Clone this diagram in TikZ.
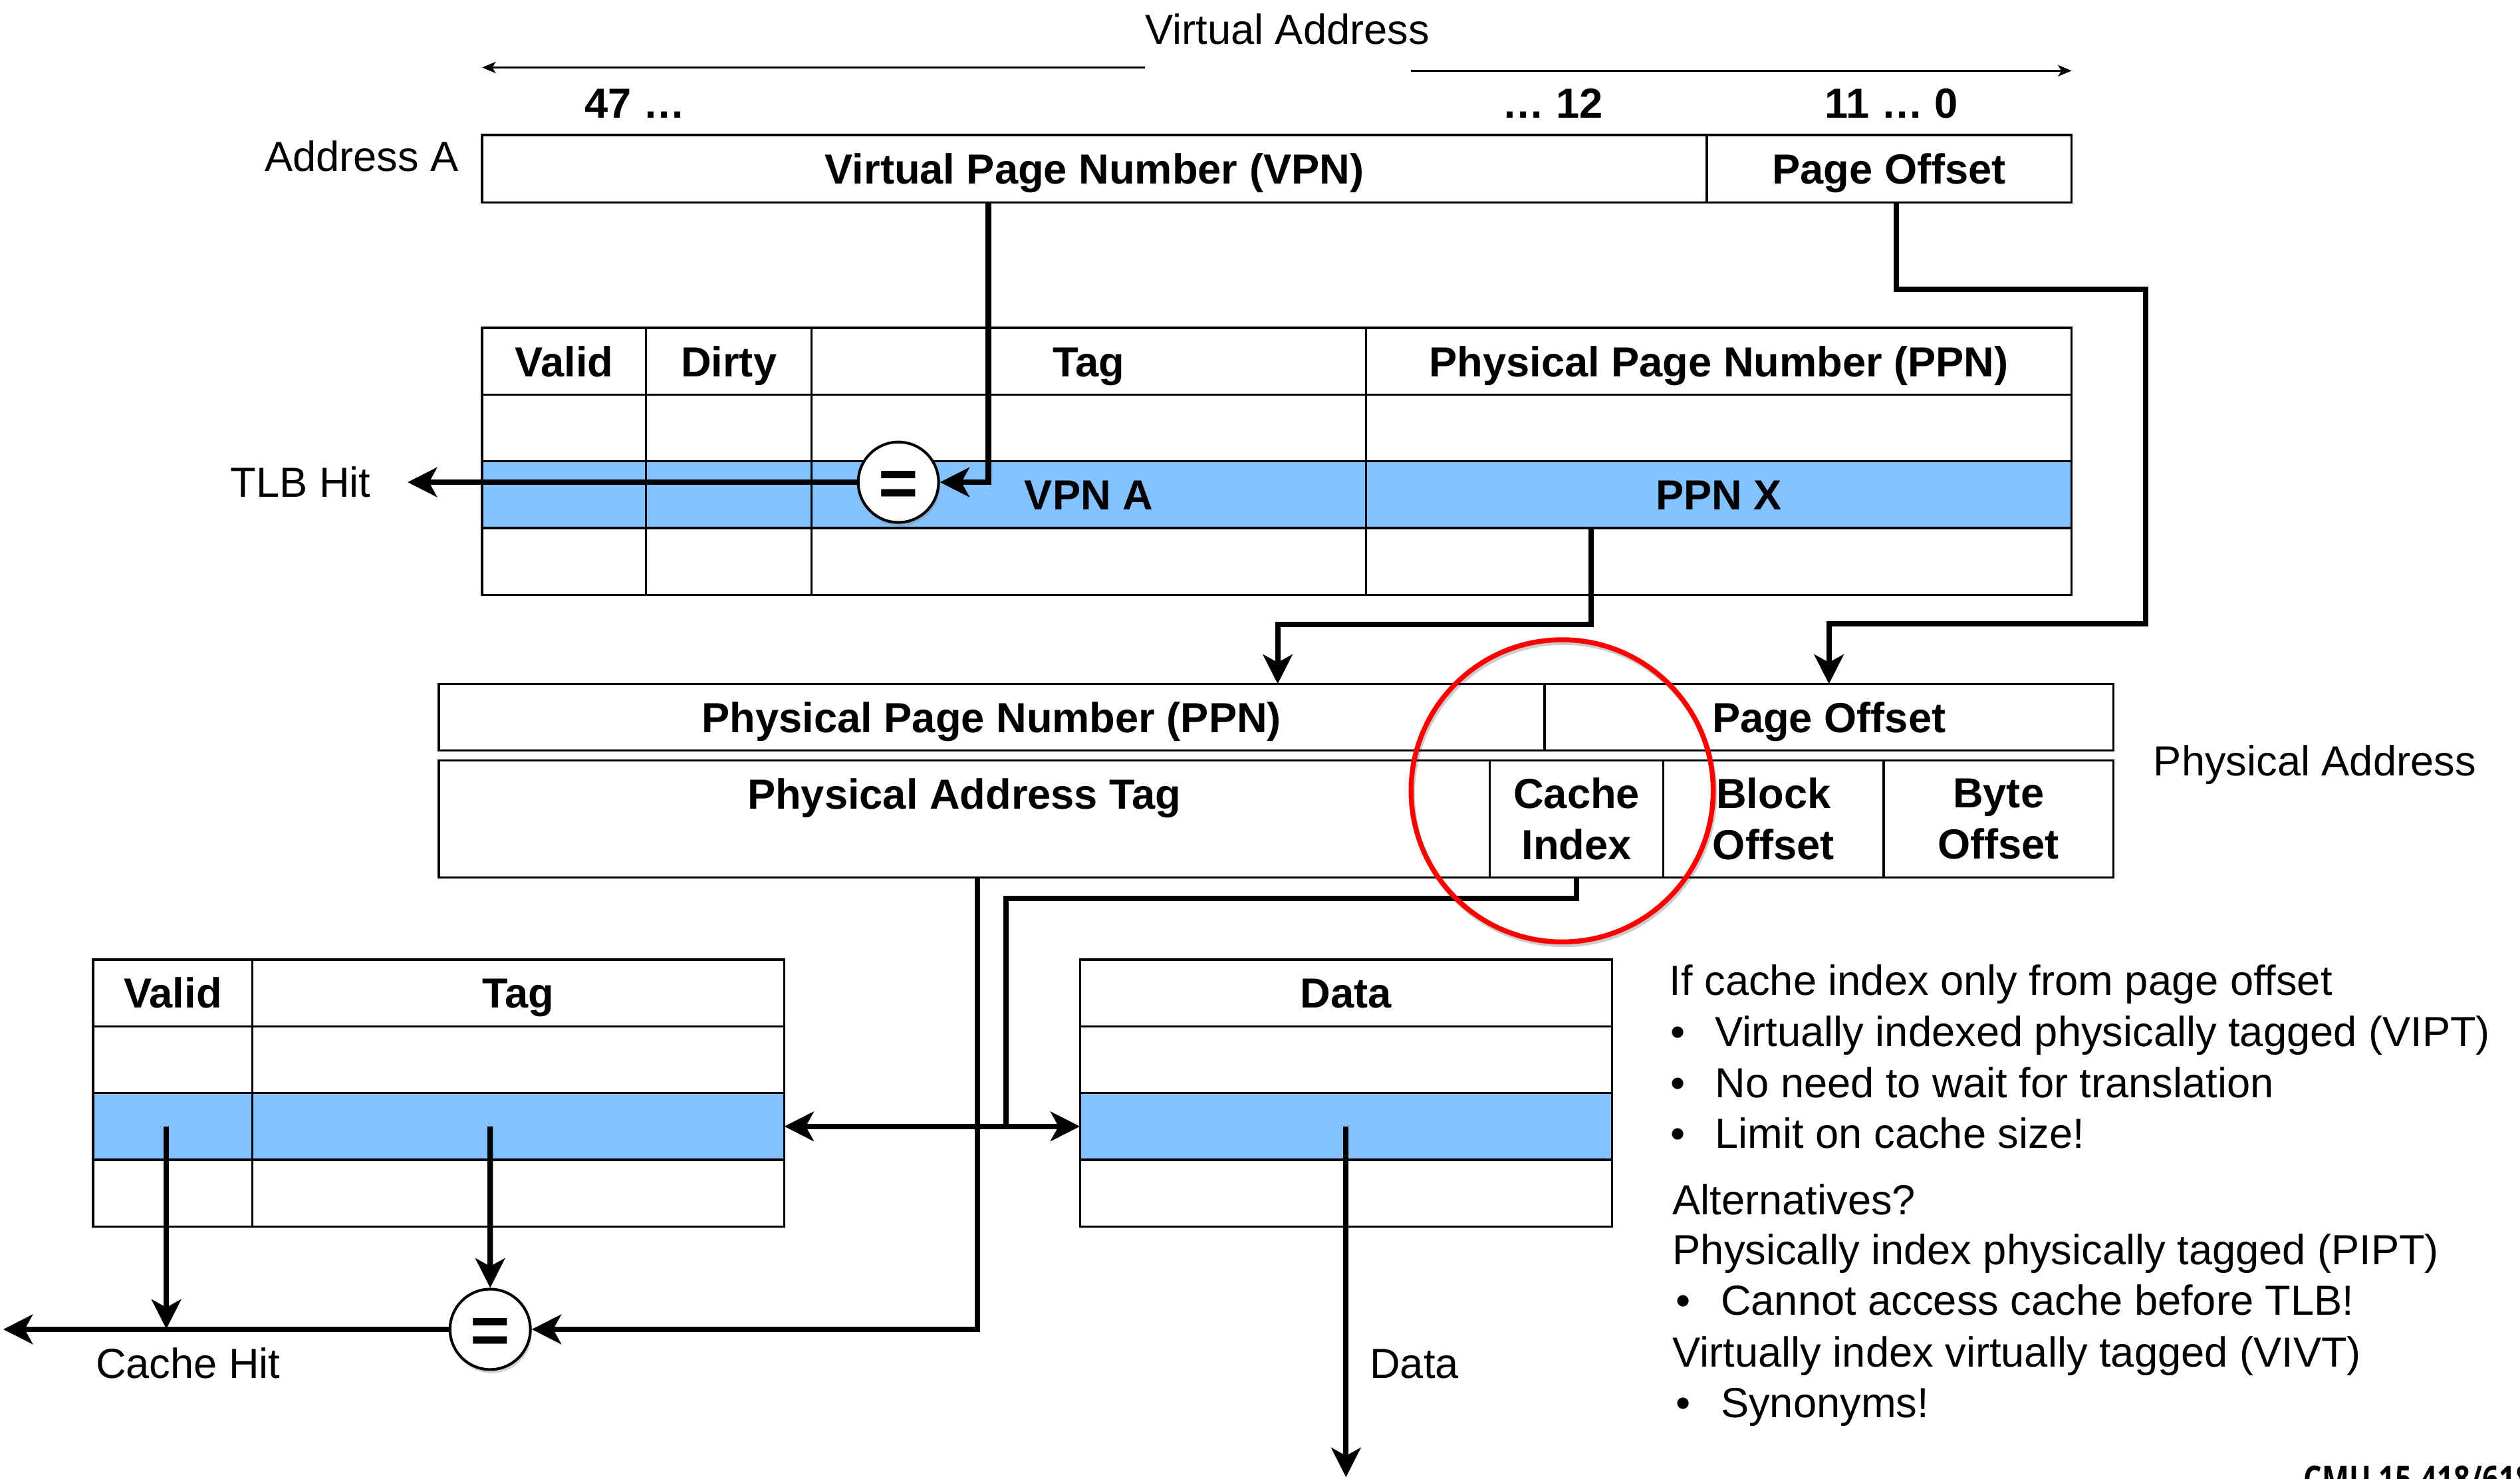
\documentclass[tikz,border=0pt]{standalone}
\usepackage{fontspec}
\setmainfont{Liberation Sans}
\newfontfamily\footfont[FakeStretch=0.8]{Open Sans}
\usetikzlibrary{arrows.meta,shadows}

\definecolor{rowblue}{RGB}{132,193,255}
\newlength\upx
\setlength\upx{0.025cm}
\newcommand\bul{\makebox[28\upx][l]{\textbullet}}

\tikzset{
	cell/.style={draw,rectangle,line width=1pt,outer sep=0pt,inner sep=0pt,text height=13.4pt,text depth=0pt,font=\bfseries},
	hitrow/.style={fill=rowblue},
	twoline/.style={align=center,text height=,text depth=},
	lbl/.style={text height=13.4pt,text depth=0pt},
	note/.style={anchor=base west,inner sep=0pt},
	wire/.style={line width=2.4pt,->},
	bitline/.style={line width=1pt,-{Stealth[length=6pt,width=5pt,inset=1.5pt]}},
	cmp/.style={circle,draw,line width=1.2pt,fill=white,minimum size=50\upx,inner sep=0pt,text height=21.6pt,text depth=0pt,font=\fontsize{30}{30}\selectfont\bfseries,drop shadow={opacity=0.35,shadow xshift=0.6pt,shadow yshift=-1.6pt}},
	ring/.style={circle,draw=red,line width=2.2pt,minimum size=188\upx,inner sep=0pt,preaction={draw=black,draw opacity=0.2,line width=2.2pt,transform canvas={xshift=0.6pt,yshift=-1.2pt}}}
}

\begin{document}
\fontsize{18.6}{22.8}\selectfont
\begin{tikzpicture}[x=\upx,y=-\upx,>={Stealth[length=13pt,width=13pt,inset=3.5pt]}]
	\useasboundingbox (0,0) rectangle (1568,920);

	\begin{scope}[every node/.style={cell,minimum height=42\upx}]
		\node[minimum width=762\upx,anchor=north west] (vpn) at (300,84) {Virtual Page Number (VPN)};
		\node[minimum width=227\upx] (poff) at (vpn.east) [right] {Page Offset};
	\end{scope}

	\begin{scope}[every node/.style={cell,minimum height=41.5\upx}]
		\node[minimum width=102\upx,anchor=north west] (tv0) at (300,204) {Valid};
		\node[minimum width=103\upx] (td0) at (tv0.east) [right] {Dirty};
		\node[minimum width=345\upx] (tt0) at (td0.east) [right] {Tag};
		\node[minimum width=439\upx] (tp0) at (tt0.east) [right] {Physical Page Number (PPN)};
		\node[minimum width=102\upx] (tv1) at (tv0.south) [below] {};
		\node[minimum width=103\upx] (td1) at (tv1.east) [right] {};
		\node[minimum width=345\upx] (tt1) at (td1.east) [right] {};
		\node[minimum width=439\upx] (tp1) at (tt1.east) [right] {};
		\node[minimum width=102\upx,hitrow] (tv2) at (tv1.south) [below] {};
		\node[minimum width=103\upx,hitrow] (td2) at (tv2.east) [right] {};
		\node[minimum width=345\upx,hitrow] (vpna) at (td2.east) [right] {VPN A};
		\node[minimum width=439\upx,hitrow] (ppnx) at (vpna.east) [right] {PPN X};
		\node[minimum width=102\upx] (tv3) at (tv2.south) [below] {};
		\node[minimum width=103\upx] (td3) at (tv3.east) [right] {};
		\node[minimum width=345\upx] (tt3) at (td3.east) [right] {};
		\node[minimum width=439\upx] (tp3) at (tt3.east) [right] {};
	\end{scope}

	\begin{scope}[every node/.style={cell}]
		\node[minimum width=688\upx,minimum height=41.5\upx,anchor=north west] (pappn) at (273,425.5) {Physical Page Number (PPN)};
		\node[minimum width=354\upx,minimum height=41.5\upx] (papoff) at (pappn.east) [right] {Page Offset};
		\node[minimum width=654\upx,minimum height=73\upx,anchor=north west] (patag) at (273,473) {};
		\node[minimum width=108\upx,minimum height=73\upx,twoline] (cidx) at (patag.east) [right] {Cache\\Index};
		\node[minimum width=137\upx,minimum height=73\upx,twoline] (blkoff) at (cidx.east) [right] {Block\\Offset};
		\node[minimum width=143\upx,minimum height=73\upx,twoline] (byteoff) at (blkoff.east) [right] {Byte\\Offset};
	\end{scope}
	\node[lbl,font=\bfseries] (patagtxt) at ([yshift=-21\upx]patag.north) {Physical Address Tag};

	\begin{scope}[every node/.style={cell,minimum height=41.5\upx}]
		\node[minimum width=99\upx,anchor=north west] (cv0) at (58,597) {Valid};
		\node[minimum width=331\upx] (ct0) at (cv0.east) [right] {Tag};
		\node[minimum width=99\upx] (cv1) at (cv0.south) [below] {};
		\node[minimum width=331\upx] (ct1) at (cv1.east) [right] {};
		\node[minimum width=99\upx,hitrow] (cv2) at (cv1.south) [below] {};
		\node[minimum width=331\upx,hitrow] (ct2) at (cv2.east) [right] {};
		\node[minimum width=99\upx] (cv3) at (cv2.south) [below] {};
		\node[minimum width=331\upx] (ct3) at (cv3.east) [right] {};
		\node[minimum width=331\upx,anchor=north west] (cd0) at (672,597) {Data};
		\node[minimum width=331\upx] (cd1) at (cd0.south) [below] {};
		\node[minimum width=331\upx,hitrow] (cd2) at (cd1.south) [below] {};
		\node[minimum width=331\upx] (cd3) at (cd2.south) [below] {};
	\end{scope}

	\node[cmp] (eqtlb) at (559,300) {=};
	\node[cmp] (eqc) at (305,827) {=};

	\node[lbl,inner sep=0pt] (vaddr) at (801,18) {Virtual Address};
	\node[lbl,font=\bfseries] (msb) at (395,64) {47 …};
	\node[lbl,font=\bfseries] (vpnlsb) at (966,64) {… 12};
	\node[lbl,font=\bfseries] (offbits) at (1177,64) {11 … 0};
	\node[lbl] (addra) at (225,97) {Address A};
	\node[lbl] (tlbhit) at (187,300) {TLB Hit};
	\node[lbl] (physaddr) at (byteoff.north east) [right=16\upx] {Physical Address};
	\node[lbl] (chit) at (117,848) {Cache Hit};
	\node[lbl] (dataout) at (880,848) {Data};
	\coordinate (chitend) at (2,827);
	\coordinate (dataend) at (837.5,919);
	\coordinate (idxjoin) at (626,700.75);

	\node[note] (vipt0) at (1038.5,619) {If cache index only from page offset};
	\node[note] (vipt1) at (1039,651) {\bul Virtually indexed physically tagged (VIPT)};
	\node[note] (vipt2) at (1039,683) {\bul No need to wait for translation};
	\node[note] (vipt3) at (1039,714.3) {\bul Limit on cache size!};
	\node[note] (alt0) at (1040.5,755.5) {Alternatives?};
	\node[note] (alt1) at (1040.5,786.5) {Physically index physically tagged (PIPT)};
	\node[note] (alt2) at (1042.5,818) {\bul Cannot access cache before TLB!};
	\node[note] (alt3) at (1040.5,850.6) {Virtually index virtually tagged (VIVT)};
	\node[note] (alt4) at (1042.5,882) {\bul Synonyms!};
	\node[anchor=north west,inner sep=0pt,font=\footfont\bfseries\fontsize{16}{16}\selectfont] (course) at (1433,911.5) {CMU 15-418/618};

	\draw[bitline] (vaddr.west) ++(0,24) -- (vpn.north west |- 0,42);
	\draw[bitline] ([xshift=-12\upx]vaddr.east) ++(0,26) -- (poff.north east |- 0,44);

	\draw[wire] ([xshift=-66\upx]vpn.south) |- (eqtlb);
	\draw[wire,shorten >=14\upx] (eqtlb) -- (tlbhit);
	\draw[wire] ([xshift=4.5\upx]poff.south) -- ++(0,54) -- ++(155,0) -- ++(0,208) -| (papoff.north);
	\draw[wire] ([xshift=-79.5\upx]ppnx.south) -- ++(0,60) -| ([xshift=178\upx]pappn.north);
	\draw[wire] ([xshift=8\upx]patag.south) |- (eqc);
	\draw[wire,-] (cidx.south) -- ++(0,13) -| (idxjoin);
	\draw[wire,<->] (ct2.east) -- (cd2.west);
	\draw[wire] ([xshift=-4\upx]cv2.center) -- ++(0,126);
	\draw[wire] ([xshift=-17.5\upx]ct2.center) -- (eqc);
	\draw[wire] (cd2.center) -- (dataend);
	\draw[wire] (eqc) -- (chitend);

	\node[ring] (idxring) at (972,492) {};
\end{tikzpicture}
\end{document}
